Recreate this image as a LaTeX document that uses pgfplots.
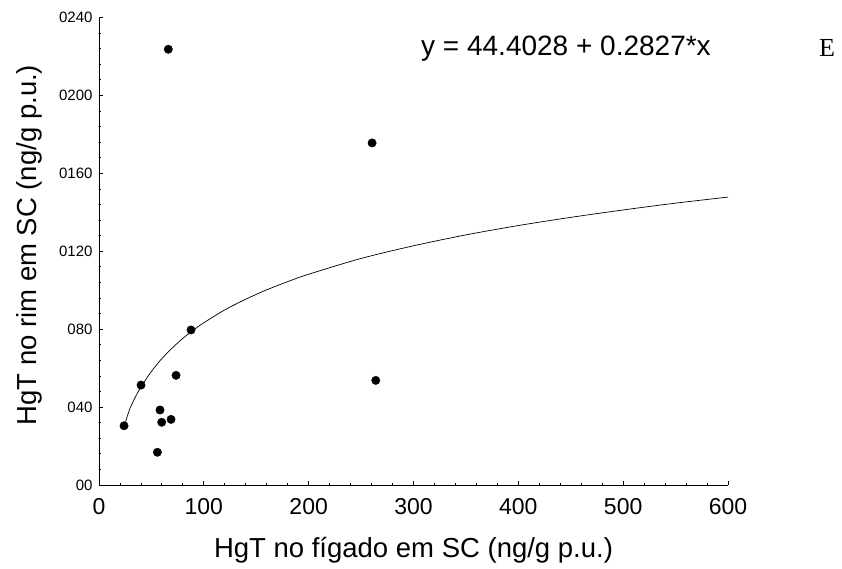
\documentclass[border=0pt]{standalone}
\usepackage{pgfplots}
\pgfplotsset{compat=1.18}
\usepackage{fontspec}
\setmainfont{Liberation Sans}
\newfontfamily\timesfont{Liberation Serif}
\begin{document}
\begin{tikzpicture}[x=1pt,y=1pt]
\useasboundingbox (-99,-83) rectangle (743,485);
\begin{axis}[
  at={(0,0)}, anchor=south west,
  scale only axis, width=629pt, height=467.5pt,
  xmin=0, xmax=600, ymin=0, ymax=240,
  axis x line*=bottom, axis y line*=left,
  axis line style={line width=0.9pt},
  xtick={0,100,...,600}, minor x tick num=4,
  ytick={0,40,...,240}, minor y tick num=4,
  yticklabels={00,040,080,0120,0160,0200,0240},
  tick align=inside,
  major tick length=4pt, minor tick length=2.5pt,
  tick style={line width=0.8pt, black},
  /pgf/number format/assume math mode=true,
  x tick label style={font=\fontsize{23}{25}\selectfont, yshift=-10pt},
  y tick label style={font=\fontsize{15}{16}\selectfont, xshift=-3pt},
  xlabel={HgT no fígado em SC (ng/g p.u.)},
  ylabel={HgT no rim em SC (ng/g p.u.)},
  xlabel style={font=\fontsize{27.5}{30}\selectfont, at={(axis description cs:0.5,-0.139)}, anchor=center},
  ylabel style={font=\fontsize{27.5}{30}\selectfont, at={(axis description cs:-0.111,0.513)}, anchor=center},
  clip=false,
]
\addplot[only marks, mark=*, mark size=4.2pt, black] coordinates {
  (23.9,30.4) (40.1,51.3) (58.2,38.5) (59.8,32.2) (55.7,16.8)
  (68.7,33.7) (73.5,56.3) (87.8,79.6) (264,53.7) (66.1,223.7) (260.5,175.6)
};
\addplot[black, line width=0.7pt, smooth] coordinates {
  (24.5,30.5) (26,33.5) (28,37.0) (30,39.9) (35,45.5) (40,50.3) (50,58.3)
  (60,64.9) (70,70.4) (80,75.3) (90,79.5) (100,83.3) (120,89.9) (140,95.4)
  (160,100.2) (180,104.4) (200,108.2) (250,116.3) (300,122.8) (350,128.4)
  (400,133.2) (450,137.4) (500,141.2) (550,144.7) (600,147.8)
};
\end{axis}
\node[anchor=west, inner sep=0pt, font=\fontsize{28}{30}\selectfont] at (322,436) {y = 44.4028 + 0.2827*x};
\node[anchor=center, font=\timesfont\fontsize{26}{28}\selectfont] at (728,437) {E};
\end{tikzpicture}
\end{document}
